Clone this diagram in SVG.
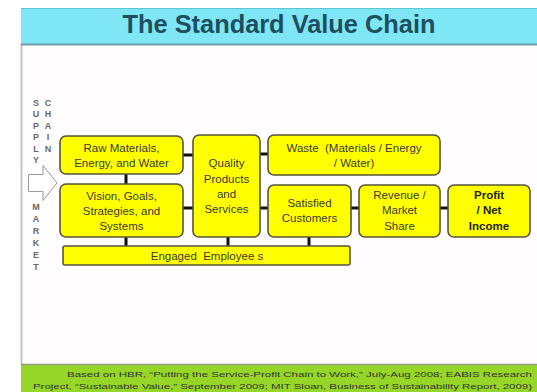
<svg xmlns="http://www.w3.org/2000/svg" width="537" height="392" viewBox="0 0 537 392">
<style>
.box{fill:#ffff00;stroke:#55553a;stroke-width:1.6}
.t{font-family:"Liberation Sans",Arial,sans-serif;font-size:11.5px;fill:#3a3a3a;text-anchor:middle;white-space:pre}
.b{font-weight:bold;fill:#222}
.lt{font-family:"Liberation Sans",Arial,sans-serif;font-size:9px;font-weight:bold;fill:#6a6a6a;text-anchor:middle}
.ft{font-family:"Liberation Sans",Arial,sans-serif;font-size:8px;fill:#333;text-anchor:end}
.c{stroke:#111;stroke-width:3;fill:none}
</style>
<rect x="0" y="0" width="537" height="392" fill="#ffffff"/>
<!-- page -->
<rect x="21" y="44" width="516" height="320" fill="#fffdfd"/>
<line x1="21.5" y1="44" x2="21.5" y2="364" stroke="#c4c4c4" stroke-width="2"/>
<!-- header -->
<rect x="21" y="8" width="516" height="36" fill="#7ee6f5"/>
<line x1="21" y1="8.5" x2="537" y2="8.5" stroke="#5cc6d3" stroke-width="1"/>
<line x1="21" y1="44.5" x2="537" y2="44.5" stroke="#6f9ea6" stroke-width="2"/>
<text x="279" y="33" font-family="Liberation Sans,Arial,sans-serif" font-size="25" font-weight="bold" fill="#1d4f5e" text-anchor="middle" textLength="313" lengthAdjust="spacingAndGlyphs">The Standard Value Chain</text>
<!-- footer -->
<rect x="21" y="364" width="516" height="28" fill="#95d629"/>
<line x1="21" y1="364.5" x2="537" y2="364.5" stroke="#8c9c80" stroke-width="1.5"/>
<text class="ft" x="532" y="377" textLength="465" lengthAdjust="spacingAndGlyphs">Based on HBR, “Putting the Service-Profit Chain to Work,” July-Aug 2008; EABIS Research</text>
<text class="ft" x="532" y="389" textLength="499" lengthAdjust="spacingAndGlyphs">Project, “Sustainable Value,” September 2009; MIT Sloan, Business of Sustainability Report, 2009)</text>
<!-- side labels -->
<g id="supply-chain-market">
<text class="lt" x="36" y="106">S</text>
<text class="lt" x="36" y="117">U</text>
<text class="lt" x="36" y="129">P</text>
<text class="lt" x="36" y="140">P</text>
<text class="lt" x="36" y="152">L</text>
<text class="lt" x="36" y="163">Y</text>
<text class="lt" x="48" y="106">C</text>
<text class="lt" x="48" y="117">H</text>
<text class="lt" x="48" y="129">A</text>
<text class="lt" x="48" y="140">I</text>
<text class="lt" x="48" y="152">N</text>
<text class="lt" x="36" y="210">M</text>
<text class="lt" x="36" y="222">A</text>
<text class="lt" x="36" y="234">R</text>
<text class="lt" x="36" y="246">K</text>
<text class="lt" x="36" y="258">E</text>
<text class="lt" x="36" y="270">T</text>
<polygon points="28.5,174.5 43,174.5 43,165.5 57,183 43,200.5 43,191.5 28.5,191.5" fill="#ffffff" stroke="#9a9a9a" stroke-width="1"/>
</g>
<!-- connectors -->
<g id="connectors">
<line class="c" x1="183" y1="155" x2="193" y2="155"/>
<line class="c" x1="183" y1="208" x2="193" y2="208"/>
<line class="c" x1="126" y1="174" x2="126" y2="184"/>
<line class="c" x1="126" y1="237" x2="126" y2="246"/>
<line class="c" x1="228" y1="237" x2="228" y2="246"/>
<line class="c" x1="260" y1="154" x2="268" y2="154"/>
<line class="c" x1="260" y1="208" x2="268" y2="208"/>
<line class="c" x1="351" y1="208" x2="359" y2="208"/>
<line class="c" x1="440" y1="208" x2="448" y2="208"/>
<line class="c" x1="309" y1="237" x2="309" y2="246"/>
</g>
<g id="raw">
<rect class="box" x="60" y="136" width="123" height="38" rx="6"/>
<text class="t" x="121.5" y="152">Raw Materials,</text>
<text class="t" x="121.5" y="167">Energy, and Water</text>
</g>
<g id="vision">
<rect class="box" x="60" y="184" width="123" height="53" rx="6"/>
<text class="t" x="121.5" y="200">Vision, Goals,</text>
<text class="t" x="121.5" y="215">Strategies, and</text>
<text class="t" x="121.5" y="230">Systems</text>
</g>
<g id="quality">
<rect class="box" x="193" y="135" width="67" height="102" rx="6"/>
<text class="t" x="226.5" y="167">Quality</text>
<text class="t" x="226.5" y="183">Products</text>
<text class="t" x="226.5" y="198">and</text>
<text class="t" x="226.5" y="213">Services</text>
</g>
<g id="waste">
<rect class="box" x="268" y="135" width="172" height="40" rx="6"/>
<text class="t" x="354" y="152">Waste  (Materials / Energy</text>
<text class="t" x="354" y="167">/ Water)</text>
</g>
<g id="satisfied">
<rect class="box" x="268" y="185" width="83" height="52" rx="6"/>
<text class="t" x="309.5" y="207">Satisfied</text>
<text class="t" x="309.5" y="222">Customers</text>
</g>
<g id="revenue">
<rect class="box" x="359" y="185" width="81" height="52" rx="6"/>
<text class="t" x="399.5" y="199">Revenue /</text>
<text class="t" x="399.5" y="214">Market</text>
<text class="t" x="399.5" y="230">Share</text>
</g>
<g id="profit">
<rect class="box" x="448" y="185" width="82" height="52" rx="6"/>
<text class="t b" x="489" y="199">Profit</text>
<text class="t b" x="489" y="214">/ Net</text>
<text class="t b" x="489" y="230">Income</text>
</g>
<g id="engaged">
<rect class="box" x="63" y="246" width="287" height="19" rx="2"/>
<text class="t" x="207" y="260">Engaged  Employee s</text>
</g>
</svg>
